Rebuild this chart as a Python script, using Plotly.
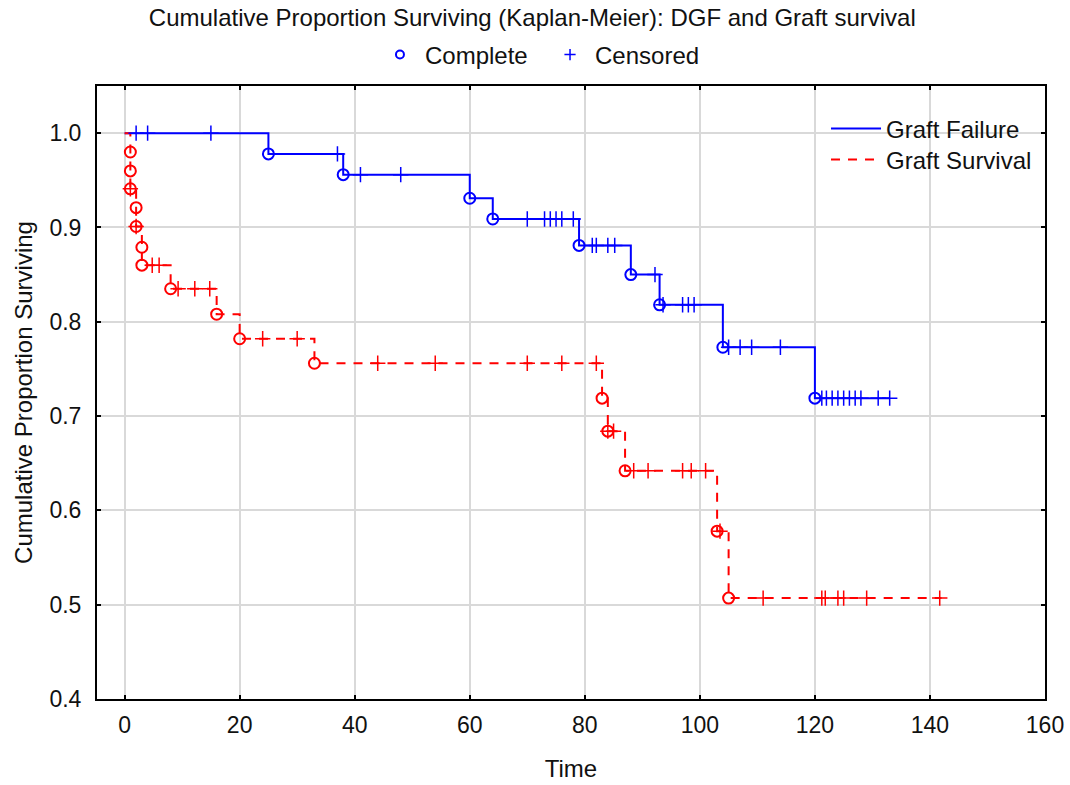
import plotly.graph_objects as go

# ---------------- data ----------------
fail_event_t = [25, 38, 60, 64, 79, 88, 93, 104, 120]
fail_event_s = [0.978, 0.956, 0.931, 0.909, 0.881, 0.850, 0.818, 0.773, 0.719]
fail_cens_t = [2, 4, 15, 37, 41, 48, 70, 73, 74, 75, 76, 78, 81.3, 82, 84, 85.2,
               92.2, 93.6, 97, 98, 99, 105, 107, 109, 114,
               121.2, 122, 123, 124, 125, 126, 127, 128, 131, 133]
fail_cens_s = [1.0, 1.0, 1.0, 0.978, 0.956, 0.956, 0.909, 0.909, 0.909, 0.909, 0.909, 0.909,
               0.881, 0.881, 0.881, 0.881, 0.850, 0.818, 0.818, 0.818, 0.818,
               0.773, 0.773, 0.773, 0.773,
               0.719, 0.719, 0.719, 0.719, 0.719, 0.719, 0.719, 0.719, 0.719, 0.719]
fail_end_t = 133

surv_event_t = [1, 1, 1, 2, 2, 3, 3, 8, 16, 20, 33, 83, 84, 87, 103, 105]
surv_event_s = [0.980, 0.960, 0.941, 0.921, 0.901, 0.879, 0.860, 0.835, 0.808, 0.782,
                0.756, 0.719, 0.684, 0.642, 0.578, 0.507]
surv_cens_t = [1, 2, 4.8, 6, 9.3, 12.2, 14.8, 24, 30, 44, 54, 70, 76, 82, 84, 85,
               88.5, 91, 97, 98.5, 101, 103.5, 111, 121.2, 121.8, 124, 125, 129, 141.7]
surv_cens_s = [0.941, 0.901, 0.860, 0.860, 0.835, 0.835, 0.835, 0.782, 0.782,
               0.756, 0.756, 0.756, 0.756, 0.756, 0.684, 0.684,
               0.642, 0.642, 0.642, 0.642, 0.642, 0.578,
               0.507, 0.507, 0.507, 0.507, 0.507, 0.507, 0.507]
surv_end_t = 142

x_ticks = [0, 20, 40, 60, 80, 100, 120, 140, 160]
y_ticks = [0.4, 0.5, 0.6, 0.7, 0.8, 0.9, 1.0]

BLUE = "#0000ff"
RED = "#ff0000"
FONT = "Liberation Sans, Arial, sans-serif"
DASH = "9px,8px"


def step_path(ev_t, ev_s, end_t):
    xs = [0] + list(ev_t) + [end_t]
    ys = [1.0] + list(ev_s) + [ev_s[-1]]
    return xs, ys


fig = go.Figure()

fx, fy = step_path(fail_event_t, fail_event_s, fail_end_t)
sx, sy = step_path(surv_event_t, surv_event_s, surv_end_t)

fig.add_trace(go.Scatter(x=fx, y=fy, mode="lines", line=dict(color=BLUE, width=2, shape="hv"),
                         showlegend=False, hoverinfo="skip"))
fig.add_trace(go.Scatter(x=sx, y=sy, mode="lines",
                         line=dict(color=RED, width=2, shape="hv", dash=DASH),
                         showlegend=False, hoverinfo="skip"))

circ = dict(symbol="circle-open", size=11, line=dict(width=2))
crs = dict(symbol="cross-thin-open", size=11, line=dict(width=1.5))

fig.add_trace(go.Scatter(x=fail_event_t, y=fail_event_s, mode="markers",
                         marker=dict(color=BLUE, **circ), showlegend=False))
fig.add_trace(go.Scatter(x=fail_cens_t, y=fail_cens_s, mode="markers",
                         marker=dict(color=BLUE, **crs), showlegend=False))
fig.add_trace(go.Scatter(x=surv_event_t, y=surv_event_s, mode="markers",
                         marker=dict(color=RED, **circ), showlegend=False))
fig.add_trace(go.Scatter(x=surv_cens_t, y=surv_cens_s, mode="markers",
                         marker=dict(color=RED, **crs), showlegend=False))

# legend entries: marker types (top) and series (inside the plot)
fig.add_trace(go.Scatter(x=[None], y=[None], mode="markers", name="Complete",
                         marker=dict(color=BLUE, symbol="circle-open", size=8, line=dict(width=2)),
                         legend="legend"))
fig.add_trace(go.Scatter(x=[None], y=[None], mode="markers", name="Censored",
                         marker=dict(color=BLUE, symbol="cross-thin-open", size=8, line=dict(width=1.5)),
                         legend="legend2"))
fig.add_trace(go.Scatter(x=[None], y=[None], mode="lines", name="Graft Failure",
                         line=dict(color=BLUE, width=2), legend="legend3"))
fig.add_trace(go.Scatter(x=[None], y=[None], mode="lines", name="Graft Survival",
                         line=dict(color=RED, width=2, dash=DASH), legend="legend4"))

axis_common = dict(
    showline=True, linecolor="black", linewidth=2, mirror="ticks",
    ticks="inside", ticklen=4, tickwidth=1.5, tickcolor="black",
    showgrid=True, gridcolor="#d9d9d9", gridwidth=2, zeroline=False,
    tickfont=dict(family=FONT, size=23, color="#111"),
    automargin=False,
)

leg_common = dict(font=dict(family=FONT, size=24, color="#111"), bgcolor="rgba(0,0,0,0)",
                  xanchor="left", yanchor="middle", tracegroupgap=0)

fig.update_layout(
    width=1070, height=785,
    margin=dict(l=97, r=25, t=86, b=86),
    paper_bgcolor="white", plot_bgcolor="white",
    font=dict(family=FONT, color="#111"),
    title=dict(text="Cumulative Proportion Surviving (Kaplan-Meier): DGF and Graft survival",
               x=0.4975, xanchor="center", y=0.977, yanchor="middle",
               font=dict(family=FONT, size=24, color="#111")),
    xaxis=dict(range=[-4.8, 160], tickvals=x_ticks, ticklabelstandoff=4,
               title=dict(text="Time", font=dict(family=FONT, size=24), standoff=24),
               **axis_common),
    yaxis=dict(range=[0.4, 1.05], tickvals=y_ticks, tickformat=".1f", ticklabelstandoff=9,
               title=dict(text="Cumulative Proportion Surviving", font=dict(family=FONT, size=24),
                          standoff=10),
               **axis_common),
    legend=dict(x=0.2932, y=1.0506, itemwidth=40, **leg_common),
    legend2=dict(x=0.4726, y=1.0506, itemwidth=40, **leg_common),
    legend3=dict(x=0.7690, y=0.9299, itemwidth=50, **leg_common),
    legend4=dict(x=0.7690, y=0.8793, itemwidth=50, **leg_common),
)

fig.write_html("out.html")
